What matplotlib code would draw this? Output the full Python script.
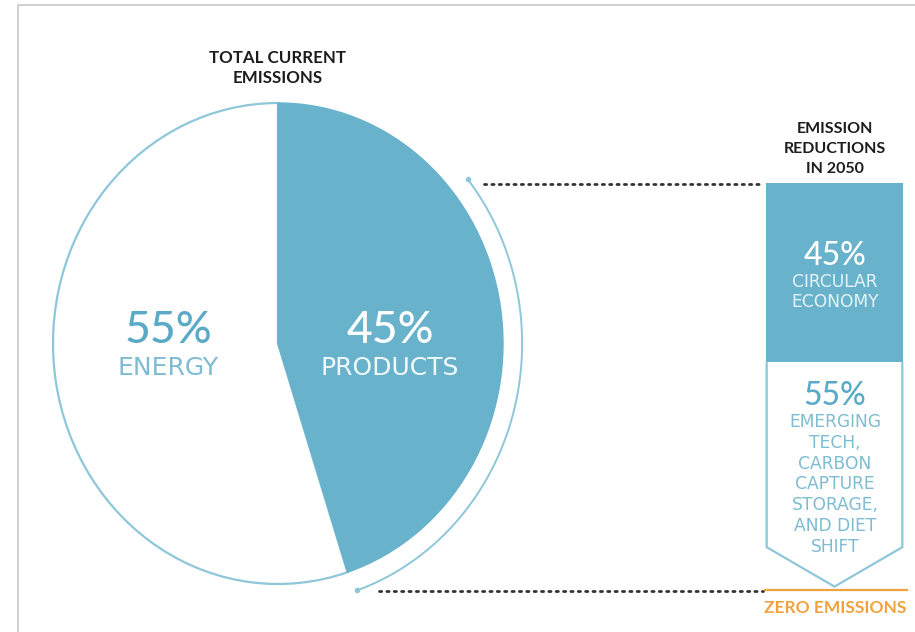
import matplotlib
matplotlib.use("Agg")
import matplotlib.pyplot as plt
import numpy as np
from matplotlib.patches import Polygon

# ---- data ----
current_labels = ["PRODUCTS", "ENERGY"]
current_values = [45, 55]
reduction_labels = ["CIRCULAR\nECONOMY",
                    "EMERGING\nTECH,\nCARBON\nCAPTURE\nSTORAGE,\nAND DIET\nSHIFT"]
reduction_values = [45, 55]
title_left = "TOTAL CURRENT\nEMISSIONS"
title_right = "EMISSION\nREDUCTIONS\nIN 2050"
zero_label = "ZERO EMISSIONS"

BLUE = "#68b2cc"
LINE_BLUE = "#8ec7d9"
NUM_BLUE = "#5aa9c6"
LBL_BLUE = "#7dbcd3"
ORANGE = "#f0a23e"
DARK = "#1c1c1c"
FONT = "Lato"
LFONT = "DejaVu Sans"

W, H = 915, 632
fig = plt.figure(figsize=(W / 100, H / 100), dpi=100)
fig.patch.set_facecolor("white")

def px_axes(left, top, right, bottom):
    return fig.add_axes([left / W, 1 - bottom / H, (right - left) / W, (bottom - top) / H])

# ---- pie (elliptical, as in the reference) ----
pax = px_axes(53, 103, 503, 584)
wedges, _ = pax.pie(current_values, startangle=90, counterclock=False, radius=1,
                    colors=[BLUE, "white"])
pax.set_aspect("auto")
pax.set_xlim(-1, 1)
pax.set_ylim(-1, 1)
pax.axis("off")
wedges[0].set_edgecolor(BLUE)
wedges[0].set_linewidth(1.0)
wedges[1].set_edgecolor(LINE_BLUE)
wedges[1].set_linewidth(1.6)
wedges[0].set_zorder(3)

# outer arc hugging the products wedge
a0 = 90 - 360 * current_values[0] / sum(current_values)
th = np.radians(np.linspace(39, a0 + 1, 200))
r_arc = 1.085
pax.plot(r_arc * np.cos(th), r_arc * np.sin(th), color=LINE_BLUE, lw=1.4, clip_on=False)
pax.plot([r_arc * np.cos(th[0]), r_arc * np.cos(th[-1])],
         [r_arc * np.sin(th[0]), r_arc * np.sin(th[-1])],
         "o", color=LINE_BLUE, ms=3, clip_on=False)

# ---- reduction bar ----
bax = px_axes(766, 183, 903, 589)
scale_px = 3.98
bax.set_xlim(0, 1)
bax.set_ylim(406 / scale_px, 0)
bax.axis("off")
bax.bar(0.5, reduction_values[0], width=1, bottom=0, color=BLUE, edgecolor=BLUE, lw=0)
top2 = reduction_values[0]
bot2 = reduction_values[0] + reduction_values[1]
tip = 406 / scale_px
side = bot2 - 8.5
chev = Polygon([(0.005, top2), (0.005, side), (0.5, tip - 0.6), (0.995, side), (0.995, top2)],
               closed=False, facecolor="white", edgecolor=LINE_BLUE, lw=1.6, clip_on=False)
bax.add_patch(chev)

# ---- overlay ----
ax = fig.add_axes([0, 0, 1, 1])
ax.set_xlim(0, W)
ax.set_ylim(H, 0)
ax.axis("off")
ax.patch.set_alpha(0)

# frame lines
ax.plot([18, 18, W], [H, 5, 5], color="#c8c8c8", lw=1.2)

# dotted connectors
ax.plot([484, 763], [184, 184], color="#333333", lw=2.0, dashes=(0.8, 1.85),
        dash_capstyle="round")
ax.plot([379, 763], [591, 591], color="#333333", lw=2.0, dashes=(0.8, 1.85),
        dash_capstyle="round")
ax.plot([765, 907], [590, 590], color=ORANGE, lw=1.6)

# titles
for i, line in enumerate(title_left.split("\n")):
    ax.text(277.5, [63, 83][i], line, ha="center", va="baseline", fontsize=12.2,
            fontweight="bold", color=DARK, family=FONT)
for i, line in enumerate(title_right.split("\n")):
    ax.text(835, [133, 153, 173][i], line, ha="center", va="baseline", fontsize=11.5,
            fontweight="bold", color=DARK, family=FONT)

# pie labels
ax.text(168, 343, f"{current_values[1]}%", ha="center", va="baseline", fontsize=32,
        color=NUM_BLUE, family=FONT, fontweight=500)
ax.text(168, 375, current_labels[1], ha="center", va="baseline", fontsize=18,
        color=LBL_BLUE, family=LFONT)
ax.text(390, 343, f"{current_values[0]}%", ha="center", va="baseline", fontsize=32,
        color="white", family=FONT, fontweight=500)
ax.text(390, 375, current_labels[0], ha="center", va="baseline", fontsize=18,
        color="#f2f9fb", family=LFONT)

# bar labels
ax.text(835, 265, f"{reduction_values[0]}%", ha="center", va="baseline", fontsize=23,
        color="white", family=FONT, fontweight=500)
for i, line in enumerate(reduction_labels[0].split("\n")):
    ax.text(835, 287 + 20 * i, line, ha="center", va="baseline", fontsize=12.3,
            color="#e6f3f7", family=LFONT)
ax.text(835, 405, f"{reduction_values[1]}%", ha="center", va="baseline", fontsize=23,
        color=NUM_BLUE, family=FONT, fontweight=500)
for i, line in enumerate(reduction_labels[1].split("\n")):
    ax.text(835, 427 + 20.8 * i, line, ha="center", va="baseline", fontsize=12.3,
            color=LBL_BLUE, family=LFONT)

ax.text(835, 613, zero_label, ha="center", va="baseline", fontsize=12.5,
        fontweight="bold", color=ORANGE, family=FONT)

fig.savefig("out.png", dpi=100, facecolor="white")
